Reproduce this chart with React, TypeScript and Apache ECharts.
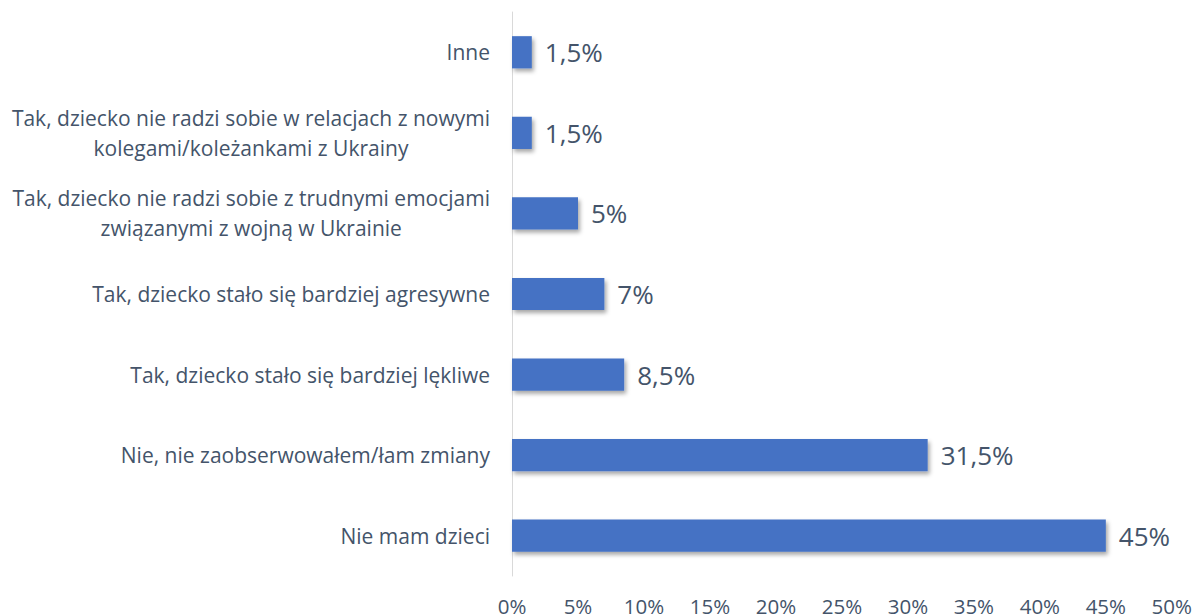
import React, { useEffect, useRef } from "react";
import * as echarts from "echarts";

const categories: string[] = [
  "Inne",
  "Tak, dziecko nie radzi sobie w relacjach z nowymi\nkolegami/koleżankami z Ukrainy",
  "Tak, dziecko nie radzi sobie z trudnymi emocjami\nzwiązanymi z wojną w Ukrainie",
  "Tak, dziecko stało się bardziej agresywne",
  "Tak, dziecko stało się bardziej lękliwe",
  "Nie, nie zaobserwowałem/łam zmiany",
  "Nie mam dzieci",
];
const values: number[] = [1.5, 1.5, 5, 7, 8.5, 31.5, 45];
const xMin = 0;
const xMax = 50;
const xStep = 5;

const TEXT = "#44546a";
const FONT = "'Open Sans', 'Noto Sans', sans-serif";

export default function App() {
  const ref = useRef<HTMLDivElement>(null);
  useEffect(() => {
    if (!ref.current) return;
    const chart = echarts.init(ref.current, undefined, { renderer: "svg" });
    chart.setOption({
      animation: false,
      grid: { left: 512, right: 20, top: 12, bottom: 39, containLabel: false },
      xAxis: {
        type: "value",
        min: xMin,
        max: xMax,
        interval: xStep,
        axisLine: { show: false },
        axisTick: { show: false },
        splitLine: { show: false },
        axisLabel: {
          formatter: (v: number) => `${v}%`,
          color: TEXT,
          fontSize: 20.5,
          fontFamily: FONT,
          margin: 19,
        },
      },
      yAxis: {
        type: "category",
        data: categories,
        inverse: true,
        axisLine: { show: true, lineStyle: { color: "#d9d9d9", width: 1 } },
        axisTick: { show: false },
        axisLabel: {
          margin: 22,
          color: TEXT,
          fontSize: 21,
          fontFamily: FONT,
          lineHeight: 30,
          formatter: (v: string) =>
            v
              .split("\n")
              .map((l) => `{c|${l}}`)
              .join("\n"),
          rich: {
            c: {
              align: "center",
              color: TEXT,
              fontSize: 21,
              fontFamily: FONT,
              lineHeight: 30,
            },
          },
        },
      },
      series: [
        {
          type: "bar",
          data: values,
          barWidth: "40%",
          itemStyle: {
            color: "#4472c4",
            shadowBlur: 4,
            shadowColor: "rgba(0,0,0,0.35)",
            shadowOffsetX: 2,
            shadowOffsetY: 3,
          },
          label: {
            show: true,
            position: "right",
            distance: 13,
            color: TEXT,
            fontSize: 26,
            fontFamily: FONT,
            formatter: (p: any) => `${String(p.value).replace(".", ",")}%`,
          },
        },
      ],
    });
    return () => chart.dispose();
  }, []);
  return <div ref={ref} style={{ width: 1195, height: 616, position: "absolute", left: 0, top: 0 }} />;
}
